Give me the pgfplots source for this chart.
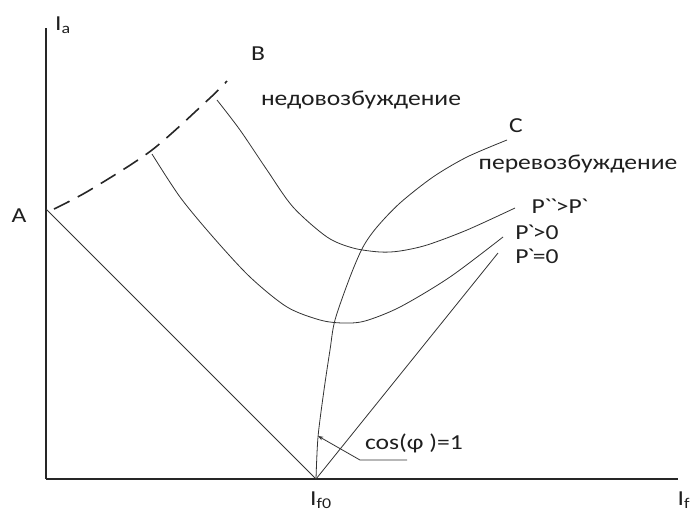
\documentclass[border=0pt]{standalone}
\usepackage{fontspec}
\setmainfont{Carlito}
\usepackage{pgfplots}
\pgfplotsset{compat=1.18}
\usetikzlibrary{arrows.meta}

\begin{document}
\begin{tikzpicture}[lbl/.style={font=\fontsize{16}{19}\selectfont, text=black!88, inner sep=0pt, xscale=1.2}]
\begin{axis}[
    scale only axis,
    width=519pt, height=383.25pt,
    xmin=0, xmax=692, ymin=0, ymax=511,
    y dir=reverse,
    axis line style={draw=none},
    xtick=\empty, ytick=\empty,
    clip=false,
  ]
  % axes
  \addplot[black!85, line width=1.6pt] coordinates {(46,28) (46,479)};
  \addplot[black!85, line width=1.6pt] coordinates {(46,479) (678,479)};

  % dashed limit curve A-B
  \addplot[black!85, line width=1.2pt, dash pattern=on 13pt off 7pt, smooth]
    coordinates {(54,209) (90,190) (152,150) (210,98) (227,81)};

  % P`=0
  \addplot[black!80, line width=0.6pt] coordinates {(46,209) (316,479) (498,253)};

  % P`>0
  \addplot[black!80, line width=0.6pt, smooth]
    coordinates {(152,154) (180,197) (213,237) (250,277) (287,307) (320,320) (343,323)
                 (365,321) (400,307) (450,277) (503,237)};

  % P``>P`
  \addplot[black!80, line width=0.6pt, smooth]
    coordinates {(217,100) (240,130) (267,170) (293,207) (327,237) (353,248) (380,252)
                 (400,251) (427,245) (467,230) (515,208)};

  % curve C (cos phi = 1)
  \addplot[black!80, line width=0.6pt, smooth]
    coordinates {(316,479) (318,437) (324,390) (330,350) (335,320) (350,277) (363,247)
                 (377,227) (400,203) (433,177) (467,157) (507,140)};

  % leader for cos(phi)=1
  \addplot[black!80, line width=0.6pt, -{Stealth[length=4pt,width=3pt]}]
    coordinates {(407,460) (360,460) (318,436)};

  \node[lbl] at (axis cs:63,25) {I\textsubscript{a}};
  \node[lbl] at (axis cs:19,216) {A};
  \node[lbl] at (axis cs:258,54) {B};
  \node[lbl] at (axis cs:516,126) {C};
  \node[lbl] at (axis cs:361,100) {недовозбуждение};
  \node[lbl] at (axis cs:578,164) {перевозбуждение};
  \node[lbl] at (axis cs:560,206) {P\kern-0.5pt\textasciigrave\kern-1pt\textasciigrave\kern-1pt>P\kern-0.5pt\textasciigrave};
  \node[lbl] at (axis cs:537,232) {P\kern-1pt\textasciigrave\kern-1pt>0};
  \node[lbl] at (axis cs:537,256) {P\kern-1pt\textasciigrave\kern-1pt=0};
  \node[lbl] at (axis cs:414,443) {cos(φ )=1};
  \node[lbl] at (axis cs:321,500) {I\textsubscript{f0}};
  \node[lbl] at (axis cs:684,500) {I\textsubscript{f}};
\end{axis}
\end{tikzpicture}
\end{document}
